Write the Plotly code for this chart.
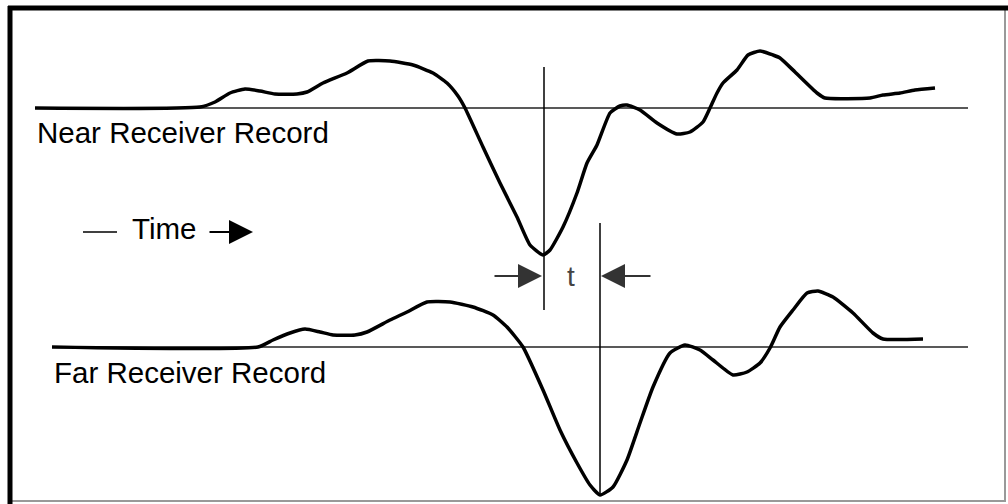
import numpy as np
import plotly.graph_objects as go

# leituras do registro proximo (tempo, amplitude acima da linha de base)
NEAR_T = [35, 200, 215, 230, 245, 260, 275, 297, 307, 323, 347, 368, 390, 413, 433, 447, 458,
          465, 483, 500, 517, 530, 543, 550, 563, 577, 587, 597, 610, 620, 627, 640, 657, 677,
          690, 703, 710, 717, 723, 737, 748, 760, 773, 780, 795, 817, 825, 870, 883, 900, 915, 935]
NEAR_AMP = [0, 1, 6, 15, 19, 17, 14, 14, 16, 25, 35, 47, 47, 43, 35, 25, 12,
            0, -39, -75, -109, -137, -147, -142, -119, -85, -55, -37, -5, 2, 3, -2, -15, -26,
            -24, -14, 0, 15, 25, 38, 53, 57, 53, 50, 36, 15, 10, 10, 13, 15, 18, 20]

# registro distante
FAR_T = [52, 258, 273, 290, 305, 320, 333, 355, 367, 390, 407, 427, 450, 473, 493, 507, 523,
         543, 560, 577, 590, 600, 613, 627, 640, 653, 670, 685, 700, 713, 733, 747, 760, 770,
         780, 793, 807, 818, 833, 853, 873, 883, 923]
FAR_AMP = [0, 0, 7, 14, 18, 15, 12, 12, 15, 27, 35, 45, 45, 40, 32, 20, 0,
           -43, -83, -116, -138, -148, -140, -113, -76, -40, -6, 2, -3, -13, -28, -25, -16, -1,
           20, 37, 54, 56, 50, 34, 14, 8, 8]

LABELS = ["Near Receiver Record", "Far Receiver Record"]
TIME_LABEL = "Time"
SHIFT_LABEL = "t"

W, H = 1008, 504
NEAR_BASE = H - 108
FAR_BASE = H - 347
BASE_END = 968
FONT = "Liberation Sans, Arial, sans-serif"

near_min = NEAR_T[int(np.argmin(NEAR_AMP))]
far_min = FAR_T[int(np.argmin(FAR_AMP))]

fig = go.Figure()

# linhas de base
for t0, base in [(NEAR_T[0], NEAR_BASE), (FAR_T[0], FAR_BASE)]:
    fig.add_trace(go.Scatter(x=[t0, BASE_END], y=[base, base], mode="lines",
                             line=dict(color="#222", width=1.5), hoverinfo="skip"))

# formas de onda
for t, amp, base in [(NEAR_T, NEAR_AMP, NEAR_BASE), (FAR_T, FAR_AMP, FAR_BASE)]:
    fig.add_trace(go.Scatter(x=t, y=[base + a for a in amp], mode="lines",
                             line=dict(color="black", width=3.5, shape="spline", smoothing=0.5),
                             hoverinfo="skip"))

# linhas verticais nos minimos
fig.add_trace(go.Scatter(x=[near_min + 1, near_min + 1], y=[H - 67, H - 310], mode="lines",
                         line=dict(color="black", width=1.5), hoverinfo="skip"))
fig.add_trace(go.Scatter(x=[far_min, far_min], y=[H - 223, FAR_BASE + min(FAR_AMP)], mode="lines",
                         line=dict(color="black", width=1.5), hoverinfo="skip"))

annotations = [
    dict(x=NEAR_T[0], y=H - 132, text=LABELS[0], xanchor="left"),
    dict(x=FAR_T[0], y=H - 372, text=LABELS[1], xanchor="left"),
    dict(x=164, y=H - 228, text=TIME_LABEL, xanchor="center"),
    dict(x=(near_min + far_min) / 2 - 1, y=H - 276, text=SHIFT_LABEL, xanchor="center",
         font=dict(color="#444", size=28, family=FONT)),
]
for a in annotations:
    a.setdefault("font", dict(color="black", size=29.5, family=FONT))
    a.update(xref="x", yref="y", yanchor="middle", showarrow=False)

arrow = dict(xref="x", yref="y", axref="x", ayref="y", text="", showarrow=True,
             arrowhead=2, arrowsize=2.4, arrowwidth=2, arrowcolor="#333")
annotations += [
    dict(arrow, x=near_min - 1, y=H - 276, ax=493, ay=H - 276),
    dict(arrow, x=far_min + 1, y=H - 276, ax=652, ay=H - 276),
    dict(arrow, x=253, y=H - 232, ax=208, ay=H - 232, arrowcolor="black"),
]

shapes = [
    dict(type="line", xref="x", yref="y", x0=83, x1=117, y0=H - 232, y1=H - 232,
         line=dict(color="black", width=1.5)),
    # moldura
    dict(type="rect", xref="x", yref="y", x0=10, x1=1005, y0=H - 9, y1=H - 501,
         line=dict(color="#999", width=2)),
    dict(type="line", xref="x", yref="y", x0=8, x1=1008, y0=H - 8, y1=H - 8,
         line=dict(color="black", width=5)),
    dict(type="line", xref="x", yref="y", x0=10, x1=10, y0=H - 6, y1=0,
         line=dict(color="black", width=5)),
]

fig.update_layout(
    width=W, height=H,
    margin=dict(l=0, r=0, t=0, b=0),
    showlegend=False,
    plot_bgcolor="white", paper_bgcolor="white",
    xaxis=dict(range=[0, W], visible=False),
    yaxis=dict(range=[0, H], visible=False),
    annotations=annotations,
    shapes=shapes,
)

# sem margem da pagina, para a figura ocupar a janela inteira
fig.write_html("out.html", config={"displayModeBar": False},
               post_script="document.body.style.margin='0';")
